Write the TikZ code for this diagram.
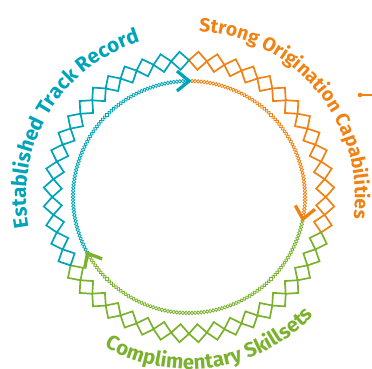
\documentclass[tikz,border=0pt]{standalone}
\usepackage{fontspec}
\setmainfont{Fira Sans}
\usetikzlibrary{decorations.text,calc}
\definecolor{cteal}{RGB}{0,164,184}
\definecolor{corange}{RGB}{240,130,20}
\definecolor{cgreen}{RGB}{122,178,46}
\tikzset{
  bigdia/.style={line width=1.7pt,line join=miter},
  smalldia/.style={line width=0.8pt},
  chev/.style={line width=3.3pt,line join=miter,line cap=butt},
}
\newcommand{\bigd}[2]{\draw[bigdia,#2] ($(C)+(#1:145.5pt)$) -- ++(#1+135:12.728pt) -- ++(#1+225:12.728pt) -- ++(#1+315:12.728pt) -- cycle;}
\newcommand{\smalld}[2]{\draw[smalldia,#2] ($(C)+(#1:117.7pt)$) -- ++(#1+135:2.404pt) -- ++(#1+225:2.404pt) -- ++(#1+315:2.404pt) -- cycle;}
\begin{document}
\begin{tikzpicture}
\useasboundingbox (0,0) rectangle (372pt,369pt);
\coordinate (C) at (189pt,172pt);
% outer ring of diamonds
\foreach \k in {0,...,13}{\pgfmathsetmacro\a{86.25-7.5*\k}\bigd{\a}{corange}}
\foreach \k in {0,...,17}{\pgfmathsetmacro\a{-18.75-7.5*\k}\bigd{\a}{cgreen}}
\foreach \k in {0,...,15}{\pgfmathsetmacro\a{93.75+7.5*\k}\bigd{\a}{cteal}}
% inner chain
\foreach \k in {0,...,79}{\pgfmathsetmacro\a{90+1.5*\k}\smalld{\a}{cteal}}
\foreach \k in {0,...,66}{\pgfmathsetmacro\a{-10.5+1.5*\k}\smalld{\a}{corange}}
\foreach \k in {0,...,92}{\pgfmathsetmacro\a{-150+1.5*\k}\smalld{\a}{cgreen}}
% chevrons
\begin{scope}[shift={(C)},rotate=90]
  \draw[chev,cteal] (126pt,12pt) -- (116pt,0pt) -- (106pt,12pt);
\end{scope}
\begin{scope}[shift={(C)},rotate=-11]
  \draw[chev,corange] (126pt,12pt) -- (116pt,0pt) -- (106pt,12pt);
\end{scope}
\begin{scope}[shift={(C)},rotate=209]
  \draw[chev,cgreen] (126pt,12pt) -- (116pt,0pt) -- (106pt,12pt);
\end{scope}
% curved labels
\path[decorate,decoration={text along path,text align=center,
  text={|\fontsize{20.5}{20.5}\selectfont\bfseries\color{cteal}|Established Track Record}}]
  ($(C)+(215:163pt)$) arc[start angle=215,end angle=83,radius=163pt];
\path[decorate,decoration={text along path,text align=center,
  text={|\fontsize{19.3}{19.3}\selectfont\bfseries\color{corange}|Strong Origination Capabilities}}]
  ($(C)+(105:166pt)$) arc[start angle=105,end angle=-26,radius=166pt];
\path[decorate,decoration={text along path,text align=center,
  text={|\fontsize{20.5}{20.5}\selectfont\bfseries\color{cgreen}|Complimentary Skillsets}}]
  ($(C)+(210:172pt)$) arc[start angle=210,end angle=347,radius=172pt];
% small marker
\coordinate (dot) at (360pt,274pt);
\coordinate (dotend) at (372pt,274pt);
\draw[corange,line width=1.2pt] (dot) -- (dotend);
\fill[corange] (dot) circle (2.3pt);
\end{tikzpicture}
\end{document}
